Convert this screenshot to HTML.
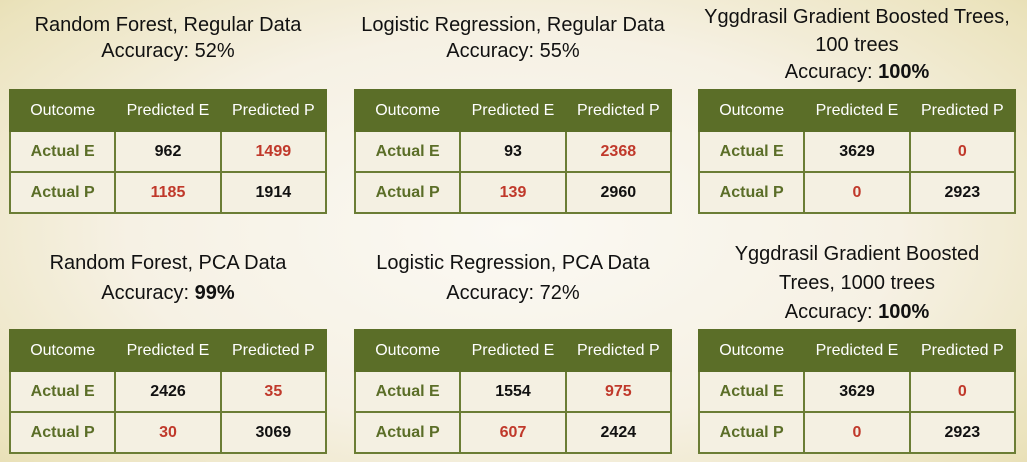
<!DOCTYPE html>
<html><head><meta charset="utf-8"><style>
body{margin:0;width:1027px;height:462px;overflow:hidden;font-family:"Liberation Sans",sans-serif;
background:radial-gradient(ellipse 75% 85% at 50% 50%,#fbf9f3 0%,#f6f1e4 50%,#ebe3bd 85%,#e2d8a6 100%);position:relative}
.t{position:absolute;text-align:center;font-size:20px;color:#111}
table{position:absolute;border-collapse:collapse;width:318px;table-layout:fixed}
td,th{border:2px solid #6b7d35;text-align:center;height:39px;font-size:16px;padding:0}
th{background:#5b6e28;color:#fff;font-weight:normal;border-color:#5b6e28}
td{background:#f4f0e2;font-weight:bold;color:#111}
td.l{color:#5b6e28}td.r{color:#c0392b}
</style></head><body>
<div id="root"></div>
<script>
const titles=[["Random Forest, Regular Data","Accuracy: 52%"],["Logistic Regression, Regular Data","Accuracy: 55%"],["Yggdrasil Gradient Boosted Trees,","100 trees","Accuracy: <b>100%</b>"],
["Random Forest, PCA Data","Accuracy: <b>99%</b>"],["Logistic Regression, PCA Data","Accuracy: 72%"],["Yggdrasil Gradient Boosted","Trees, 1000 trees","Accuracy: <b>100%</b>"]];
const vals=[[962,1499,1185,1914],[93,2368,139,2960],[3629,0,0,2923],[2426,35,30,3069],[1554,975,607,2424],[3629,0,0,2923]];
const xs=[9,354,698];
const root=document.getElementById('root');
vals.forEach((v,i)=>{
 const x=xs[i%3],row=Math.floor(i/3);
 const three=titles[i].length==3;
 const ty=three?(row?240:4):(row?248:12);
 const lh=three?(row?29:27.5):(row?30:26);
 const d=document.createElement('div');d.className='t';
 
 
 d.style.left=(x-20)+'px';d.style.width='358px';d.style.top=ty+'px';d.style.lineHeight=lh+'px';
 d.innerHTML=titles[i].join('<br>');root.appendChild(d);
 const t=document.createElement('table');
 
 
 t.style.left=x+'px';t.style.top=(row?329:89)+'px';
 t.innerHTML=`<tr><th>Outcome</th><th>Predicted E</th><th>Predicted P</th></tr>
<tr><td class="l">Actual E</td><td>${v[0]}</td><td class="r">${v[1]}</td></tr>
<tr><td class="l">Actual P</td><td class="r">${v[2]}</td><td>${v[3]}</td></tr>`;
 root.appendChild(t);
});
</script>
</body></html>
